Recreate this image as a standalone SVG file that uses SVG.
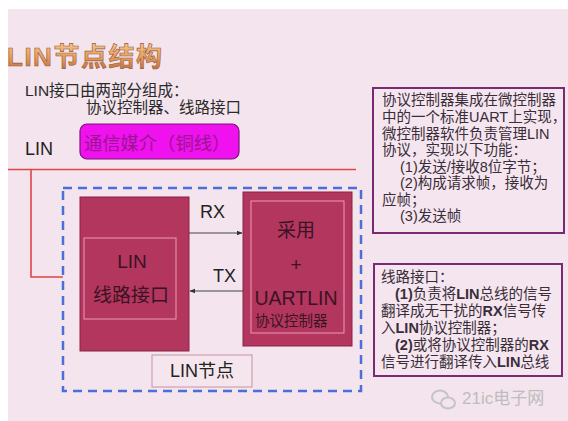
<svg xmlns="http://www.w3.org/2000/svg" width="568" height="421" viewBox="0 0 568 421">
<defs>
<linearGradient id="tg" x1="0" y1="0" x2="0" y2="1">
<stop offset="0" stop-color="#f7c890"/>
<stop offset="0.55" stop-color="#e39a5a"/>
<stop offset="1" stop-color="#b86a3a"/>
</linearGradient>
<marker id="ah" viewBox="0 0 6 6" refX="5.5" refY="3" markerWidth="5" markerHeight="5" orient="auto">
<path d="M0,0.5 L6,3 L0,5.5 z" fill="#333"/>
</marker>
<style>
text{font-family:"Liberation Sans","Noto Sans CJK SC",sans-serif;}
.t{fill:#2a2a2a;font-size:15.5px;}
.note{fill:#3a2d3a;font-size:14.5px;}
.blk{fill:#b3365f;stroke:#8a2347;stroke-width:1;}
.inn{fill:none;stroke:#eb9ab8;stroke-width:1;}
.bt{fill:#3a1422;}
.box{fill:#f4e5ee;stroke:#7a2a72;stroke-width:2;}
.bus{stroke:#e04545;stroke-width:1.6;fill:none;}
.sig{stroke:#444;stroke-width:1.1;fill:none;marker-end:url(#ah);}
</style>
</defs>
<rect x="0" y="0" width="568" height="421" fill="#ffffff"/>
<rect x="8" y="9" width="560" height="412" fill="#f3e4ed"/>

<g id="title">
<text x="7" y="66" font-size="26" font-weight="bold" letter-spacing="1.5" fill="url(#tg)" stroke="#9a5a3a" stroke-width="0.6">LIN节点结构</text>
</g>
<g id="intro">
<text class="t" x="25" y="96">LIN接口由两部分组成：</text>
<text class="t" x="86" y="113">协议控制器、线路接口</text>
</g>
<g id="lin-label">
<text x="25" y="155" font-size="18" fill="#222">LIN</text>
</g>
<g id="medium">
<rect x="80" y="124" width="159" height="35" rx="7" fill="#ef12ef" stroke="#7a1478" stroke-width="1.2"/>
<text x="84" y="150" font-size="18.3" fill="#9a1590">通信媒介（铜线）</text>
</g>

<g id="connectors">
<path class="bus" d="M8,169.5 H356"/>
<path class="bus" d="M31,169.5 V277 H63"/>
<path class="sig" d="M189,233 H242"/>
<path class="sig" d="M243,291 H190"/>
<text x="200" y="218" font-size="18" fill="#222">RX</text>
<text x="213" y="282" font-size="18" fill="#222">TX</text>
</g>

<g id="lin-node">
<rect x="63" y="188" width="298" height="203" fill="none" stroke="#4a6fd8" stroke-width="2.5" stroke-dasharray="9 6"/>
<rect x="152" y="355" width="100" height="32" fill="#f5e6ee" stroke="#c890a8" stroke-width="1"/>
<text x="202" y="377" font-size="18" fill="#222" text-anchor="middle">LIN节点</text>
</g>

<g id="line-interface">
<rect class="blk" x="80" y="197" width="109" height="154"/>
<rect class="inn" x="84" y="238" width="92" height="81"/>
<text class="bt" x="132" y="268" font-size="19" text-anchor="middle">LIN</text>
<text class="bt" x="131" y="302" font-size="19" text-anchor="middle">线路接口</text>
</g>

<g id="protocol-controller">
<rect class="blk" x="243" y="192" width="109" height="154"/>
<rect class="inn" x="251" y="201" width="93" height="132"/>
<text class="bt" x="296" y="237" font-size="19" text-anchor="middle">采用</text>
<text class="bt" x="296" y="271" font-size="19" text-anchor="middle">+</text>
<text class="bt" x="296" y="305" font-size="19.5" text-anchor="middle">UARTLIN</text>
<text class="bt" x="255" y="326" font-size="14.5">协议控制器</text>
</g>

<g id="note-controller">
<rect class="box" x="373" y="88" width="191" height="145"/>
<text class="note" x="382" y="105">协议控制器集成在微控制器</text>
<text class="note" x="382" y="122">中的一个标准UART上实现，</text>
<text class="note" x="382" y="138.5">微控制器软件负责管理LIN</text>
<text class="note" x="382" y="155">协议，实现以下功能：</text>
<text class="note" x="400" y="171.5">(1)发送/接收8位字节；</text>
<text class="note" x="400" y="188">(2)构成请求帧，接收为</text>
<text class="note" x="382" y="204.5">应帧；</text>
<text class="note" x="400" y="221">(3)发送帧</text>
</g>

<g id="note-interface">
<rect class="box" x="374" y="264" width="188" height="112"/>
<text class="note" x="381" y="282">线路接口：</text>
<text class="note" x="395" y="299"><tspan font-weight="bold">(1)</tspan>负责将<tspan font-weight="bold">LIN</tspan>总线的信号</text>
<text class="note" x="381" y="316">翻译成无干扰的<tspan font-weight="bold">RX</tspan>信号传</text>
<text class="note" x="381" y="333">入<tspan font-weight="bold">LIN</tspan>协议控制器；</text>
<text class="note" x="395" y="350"><tspan font-weight="bold">(2)</tspan>或将协议控制器的<tspan font-weight="bold">RX</tspan></text>
<text class="note" x="381" y="367">信号进行翻译传入<tspan font-weight="bold">LIN</tspan>总线</text>
</g>

<g id="watermark">
<ellipse cx="440" cy="397" rx="8" ry="6.5" fill="none" stroke="#c4c4c4" stroke-width="2"/>
<ellipse cx="448" cy="403" rx="7" ry="5.5" fill="#f3e4ed" stroke="#c4c4c4" stroke-width="2"/>
<text x="462" y="404" font-size="17" fill="#bdbdbd">21ic电子网</text>
</g>
</svg>
